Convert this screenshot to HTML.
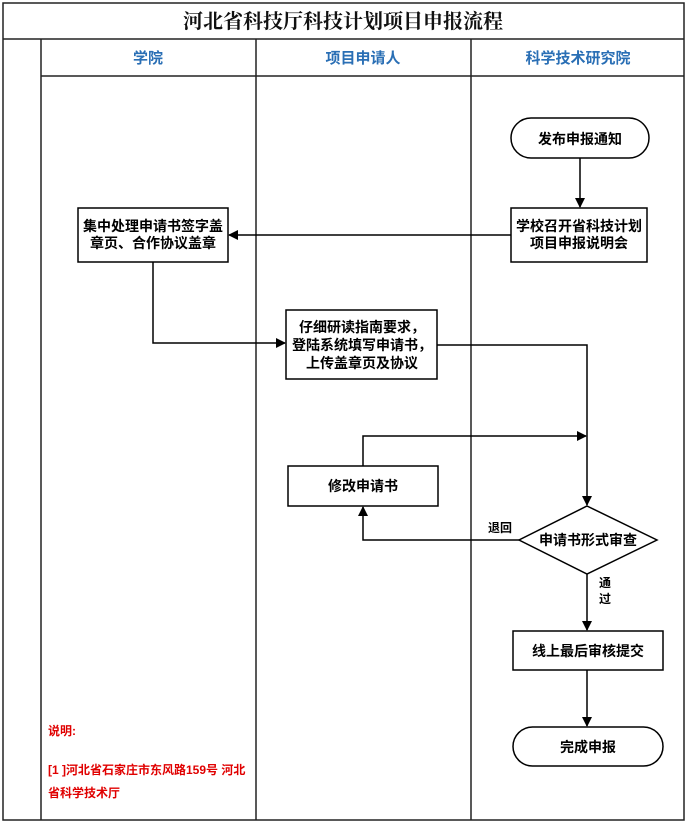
<!DOCTYPE html>
<html><head><meta charset="utf-8"><style>
html,body{margin:0;padding:0;background:#fff;}
svg{display:block;}
text{font-family:"Liberation Sans","Noto Sans CJK SC",sans-serif;}
</style></head><body>
<svg width="687" height="823" viewBox="0 0 687 823" xmlns="http://www.w3.org/2000/svg">
<defs><marker id="a" markerWidth="10" markerHeight="10" refX="9" refY="5" orient="auto" markerUnits="userSpaceOnUse"><path d="M0,0 L10,5 L0,10 z" fill="#000"/></marker></defs>
<g stroke="#222" stroke-width="1.5" fill="none">
<rect x="3" y="3" width="681" height="817"/>
<line x1="3" y1="39" x2="684" y2="39"/>
<line x1="41" y1="76" x2="684" y2="76"/>
<line x1="41" y1="39" x2="41" y2="820"/>
<line x1="256" y1="39" x2="256" y2="820"/>
<line x1="471" y1="39" x2="471" y2="820"/>
</g>
<text x="343" y="28" font-size="20" font-weight="bold" text-anchor="middle" style="font-family:'Liberation Serif','Noto Serif CJK SC',serif" fill="#111">河北省科技厅科技计划项目申报流程</text>
<g font-size="15" fill="#2a6fb5" text-anchor="middle" font-weight="bold">
<text x="148" y="63">学院</text><text x="363" y="63">项目申请人</text><text x="578" y="63">科学技术研究院</text></g>
<g stroke="#000" stroke-width="1.5" fill="#fff">
<rect x="511" y="118" width="138" height="40" rx="20"/>
<rect x="511" y="208" width="136" height="54"/>
<rect x="78" y="208" width="150" height="54"/>
<rect x="286" y="310" width="151" height="69"/>
<rect x="288" y="466" width="150" height="40"/>
<polygon points="587,506 657,540 587,574 519,540"/>
<rect x="513" y="631" width="150" height="39"/>
<rect x="513" y="727" width="150" height="39" rx="19.5"/>
</g>
<g stroke="#000" stroke-width="1.5" fill="none" marker-end="url(#a)">
<line x1="580" y1="158" x2="580" y2="207"/>
<line x1="511" y1="235" x2="229" y2="235"/>
<polyline points="153,262 153,343 285,343"/>
<polyline points="437,345 587,345 587,505"/>
<polyline points="363,466 363,436 586,436"/>
<polyline points="519,540 363,540 363,507"/>
<line x1="587" y1="574" x2="587" y2="630"/>
<line x1="587" y1="670" x2="587" y2="726"/>
</g>
<g font-size="14" font-weight="bold" fill="#000" text-anchor="middle">
<text x="580" y="144">发布申报通知</text>
<text x="579" y="231">学校召开省科技计划</text><text x="579" y="248">项目申报说明会</text>
<text x="153" y="231">集中处理申请书签字盖</text><text x="153" y="248">章页、合作协议盖章</text>
<text x="362" y="332">仔细研读指南要求，</text><text x="362" y="350">登陆系统填写申请书，</text><text x="362" y="368">上传盖章页及协议</text>
<text x="363" y="491">修改申请书</text>
<text x="588" y="545">申请书形式审查</text>
<text x="588" y="656">线上最后审核提交</text>
<text x="588" y="752">完成申报</text>
<text x="500" y="532" font-size="12">退回</text>
<text x="605" y="587" font-size="12">通</text><text x="605" y="603" font-size="12">过</text>
</g>
<g font-size="12" font-weight="bold" fill="#e00000">
<text x="48" y="735">说明:</text>
<text x="48" y="774">[1 ]河北省石家庄市东风路159号 河北</text>
<text x="48" y="797">省科学技术厅</text>
</g>
</svg>
</body></html>
